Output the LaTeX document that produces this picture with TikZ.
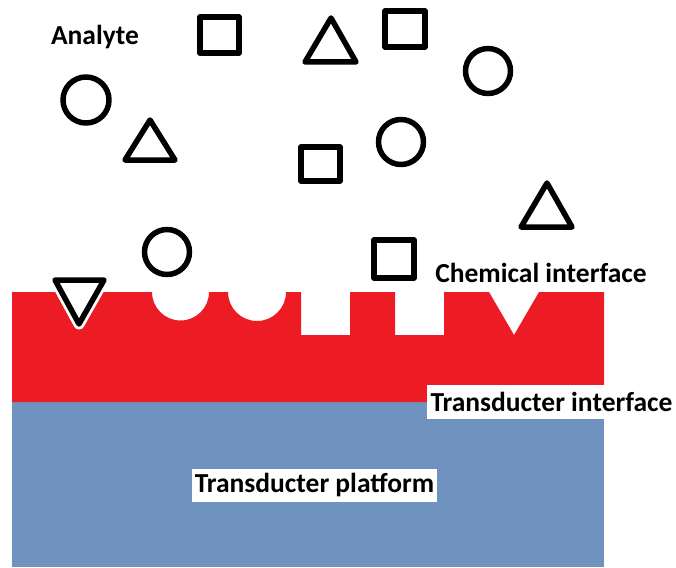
\documentclass[tikz,border=0pt]{standalone}
\usepackage{fontspec}
\setmainfont{Carlito}
\definecolor{layerred}{HTML}{ED1C24}
\definecolor{layerblue}{HTML}{7092BE}
\begin{document}
\begin{tikzpicture}[x=1pt,y=-1pt,
  shp/.style={draw=black,line width=5.5pt,line join=round,line cap=round},
  lbl/.style={font=\fontsize{27.5}{31}\selectfont\bfseries,text=black,inner sep=0pt}]
\useasboundingbox (0,0) rectangle (676,567);
\fill[white] (0,0) rectangle (676,567);
% transducer platform
\fill[layerblue] (12,402) rectangle (604,567);
% chemical interface layer with receptor sites
\fill[layerred] (12,292) -- (152,292) arc[start angle=180,end angle=360,radius=28.5pt]
  -- (228,292) arc[start angle=180,end angle=360,radius=29pt]
  -- (301,292) -- (301,335) -- (350,335) -- (350,292)
  -- (395,292) -- (395,335) -- (444,335) -- (444,292)
  -- (489,292) -- (514,335) -- (539,292) -- (604,292) -- (604,402) -- (12,402) -- cycle;
% bound analyte (inverted triangle) with white halo
\filldraw[fill=white,draw=white,line width=11pt,line join=round] (55,280) -- (104,280) -- (79,324) -- cycle;
\draw[shp] (55,280) -- (104,280) -- (79,324) -- cycle;
% free analytes
\draw[shp] (200,17) rectangle (239,53);
\draw[shp] (301,147) rectangle (340,181);
\draw[shp] (385,11) rectangle (425,47);
\draw[shp] (374,240) rectangle (414,278);
\draw[shp] (86,100) circle[radius=23pt];
\draw[shp] (488,71) circle[radius=22.5pt];
\draw[shp] (401,142) circle[radius=22.5pt];
\draw[shp] (167,252) circle[radius=22.5pt];
\draw[shp] (150,120) -- (175,160) -- (125,160) -- cycle;
\draw[shp] (331,18) -- (356,62) -- (305,62) -- cycle;
\draw[shp] (547,183) -- (572,227) -- (521,227) -- cycle;
% labels
\node[lbl] (analyte) at (95,37) {Analyte};
\node[lbl] (chem) at (541,273) {Chemical interface};
\node[lbl,fill=white,minimum width=249pt,minimum height=34pt] (tint) at (551.5,402) {Transducter interface};
\node[lbl,fill=white,minimum width=245pt,minimum height=33pt] (tplat) at (314.5,485.5) {Transducter platform};
\end{tikzpicture}
\end{document}
